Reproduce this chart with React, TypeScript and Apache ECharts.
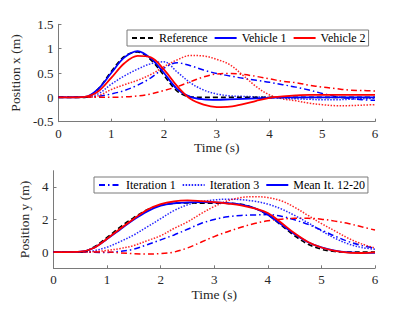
import React, { useEffect, useRef } from "react";
import * as echarts from "echarts";

const T = [0, 0.25, 0.5, 0.75, 1, 1.25, 1.5, 1.75, 2, 2.25, 2.5, 2.75, 3, 3.25, 3.5, 3.75, 4, 4.25, 4.5, 4.75, 5, 5.25, 5.5, 5.75, 6];

// Position x (top)
const refX = [0, 0, 0, 0.17, 0.53, 0.84, 0.93, 0.77, 0.45, 0.13, 0.01, 0, 0, 0, 0, 0, 0, 0, 0, 0, 0, 0, 0, 0, 0];
const v1MeanX = [0, 0, 0.01, 0.17, 0.5, 0.82, 0.95, 0.8, 0.5, 0.17, 0.01, -0.04, -0.05, -0.04, -0.03, -0.02, -0.01, 0, 0, 0, 0, 0, 0, 0, 0];
const v2MeanX = [0, 0, 0.01, 0.12, 0.4, 0.7, 0.85, 0.82, 0.57, 0.23, -0.03, -0.15, -0.2, -0.19, -0.14, -0.07, -0.01, 0.02, 0.04, 0.05, 0.05, 0.05, 0.05, 0.05, 0.05];
const v1It1X = [0, 0, 0, 0.02, 0.07, 0.14, 0.25, 0.4, 0.6, 0.71, 0.65, 0.56, 0.49, 0.44, 0.39, 0.35, 0.31, 0.26, 0.21, 0.15, 0.08, 0.02, -0.02, -0.05, -0.06];
const v1It3X = [0, 0, 0.01, 0.07, 0.27, 0.44, 0.58, 0.69, 0.73, 0.52, 0.3, 0.15, 0.07, 0.03, 0.02, 0.01, 0, -0.02, -0.03, -0.04, -0.05, -0.05, -0.04, -0.03, -0.02];
const v2It1X = [0, 0, 0, 0, 0, 0.01, 0.03, 0.07, 0.14, 0.22, 0.32, 0.42, 0.48, 0.49, 0.47, 0.43, 0.38, 0.33, 0.3, 0.25, 0.21, 0.18, 0.15, 0.14, 0.13];
const v2It3X = [0, 0, 0, 0.03, 0.16, 0.26, 0.35, 0.47, 0.63, 0.77, 0.86, 0.85, 0.78, 0.67, 0.45, 0.22, 0.05, -0.03, -0.07, -0.12, -0.15, -0.17, -0.17, -0.16, -0.15];

// Position y (bottom)
const refY = [0, 0, 0, 0.3, 0.9, 1.55, 2.12, 2.6, 2.88, 3.0, 3.02, 3.0, 3.0, 3.0, 2.93, 2.7, 2.28, 1.65, 1.0, 0.48, 0.17, 0.03, 0, 0, 0];
const v1MeanY = [0, 0, 0.02, 0.25, 0.8, 1.4, 2.0, 2.5, 2.85, 3.0, 3.05, 3.07, 3.05, 3.0, 2.92, 2.7, 2.3, 1.7, 1.1, 0.6, 0.28, 0.08, -0.02, -0.05, -0.05];
const v2MeanY = [0, 0, 0.02, 0.25, 0.82, 1.45, 2.05, 2.6, 2.95, 3.12, 3.17, 3.13, 3.07, 2.98, 2.87, 2.68, 2.4, 1.8, 1.15, 0.62, 0.28, 0.07, -0.04, -0.06, -0.02];
const v1It1Y = [0, 0, 0, -0.02, -0.03, 0.05, 0.18, 0.45, 0.75, 1.05, 1.4, 1.75, 2.0, 2.17, 2.25, 2.28, 2.3, 2.2, 1.98, 1.7, 1.35, 0.98, 0.65, 0.4, 0.24];
const v1It3Y = [0, 0, 0, 0.08, 0.3, 0.65, 1.05, 1.55, 2.05, 2.55, 2.9, 3.1, 3.2, 3.25, 3.22, 3.12, 2.95, 2.65, 2.25, 1.8, 1.3, 0.85, 0.5, 0.28, 0.17];
const v2It1Y = [0, 0, 0, 0, 0, -0.05, -0.1, -0.12, -0.1, 0, 0.25, 0.6, 0.95, 1.25, 1.52, 1.75, 1.92, 2.02, 2.07, 2.07, 2.02, 1.9, 1.75, 1.55, 1.35];
const v2It3Y = [0, 0, 0, 0.02, 0.1, 0.22, 0.4, 0.7, 1.0, 1.45, 1.85, 2.35, 2.8, 3.15, 3.35, 3.4, 3.35, 3.15, 2.75, 2.25, 1.75, 1.3, 0.85, 0.5, 0.25];

const legendTop = ["Reference", "Vehicle 1", "Vehicle 2"];
const legendBottom = ["Iteration 1", "Iteration 3", "Mean It. 12-20"];
const yTicksTop = [-0.5, 0, 0.5, 1, 1.5];
const yTicksBottom = [0, 2, 4];

const FONT = "'Liberation Serif', serif";
const AX = "#7a7a7a";
const TXT = "#262626";
const BLUE = "#0000ff";
const RED = "#ff0000";
const DASHDOT = [6, 3, 1.5, 3];
const DOT = [1.5, 1.5];

const pairs = (vals: number[]) => T.map((t, i) => [t, vals[i]]);

function line(name: string, idx: number, vals: number[], color: string, type: any, width: number, opacity = 1) {
  return {
    name,
    type: "line",
    xAxisIndex: idx,
    yAxisIndex: idx,
    data: pairs(vals),
    smooth: 0.35,
    symbol: "none",
    showSymbol: false,
    lineStyle: { color, type, width, opacity },
    itemStyle: { color },
    silent: true,
  };
}

function xAxisCfg(idx: number) {
  return {
    type: "value",
    gridIndex: idx,
    min: 0,
    max: 6,
    interval: 1,
    name: "Time (s)",
    nameLocation: "middle",
    nameGap: 18,
    nameTextStyle: { fontFamily: FONT, fontSize: 13.5, color: TXT },
    axisLine: { show: true, onZero: false, lineStyle: { color: AX, width: 1 } },
    axisTick: { show: true, inside: true, length: 3, lineStyle: { color: AX } },
    axisLabel: { fontFamily: FONT, fontSize: 13, color: TXT, margin: 5 },
    splitLine: { show: false },
  };
}

export default function App() {
  const ref = useRef<HTMLDivElement>(null);
  useEffect(() => {
    if (!ref.current) return;
    const chart = echarts.init(ref.current, null, { renderer: "svg" });
    const legendCommon = {
      orient: "horizontal",
      itemWidth: 22,
      itemHeight: 12,
      itemGap: 6,
      padding: [2, 3, 2, 4],
      borderColor: AX,
      borderWidth: 1,
      backgroundColor: "#ffffff",
      selectedMode: false,
      itemStyle: { opacity: 0 },
      textStyle: { fontFamily: FONT, fontSize: 12, color: "#000" },
    };
    chart.setOption({
      animation: false,
      backgroundColor: "#ffffff",
      grid: [
        { left: 53.5, top: 24.3, width: 321.5, height: 97.4 },
        { left: 53.5, top: 170.7, width: 321.5, height: 97.6 },
      ],
      legend: [
        { ...legendCommon, data: legendTop, left: 127, top: 30 },
        { ...legendCommon, data: legendBottom, left: 94, top: 177 },
      ],
      xAxis: [xAxisCfg(0), xAxisCfg(1)],
      yAxis: [
        {
          type: "value",
          gridIndex: 0,
          min: -0.5,
          max: 1.5,
          interval: 0.5,
          name: "Position x (m)",
          nameLocation: "middle",
          nameGap: 24,
          nameTextStyle: { fontFamily: FONT, fontSize: 13.5, color: TXT },
          axisLine: { show: true, onZero: false, lineStyle: { color: AX, width: 1 } },
          axisTick: { show: true, inside: true, length: 3, lineStyle: { color: AX }, customValues: yTicksTop },
          axisLabel: { fontFamily: FONT, fontSize: 13, color: TXT, margin: 5, customValues: yTicksTop },
          splitLine: { show: false },
        },
        {
          type: "value",
          gridIndex: 1,
          min: -1,
          max: 5,
          interval: 1,
          name: "Position y (m)",
          nameLocation: "middle",
          nameGap: 10,
          nameTextStyle: { fontFamily: FONT, fontSize: 13.5, color: TXT },
          axisLine: { show: true, onZero: false, lineStyle: { color: AX, width: 1 } },
          axisTick: { show: true, inside: true, length: 3, lineStyle: { color: AX }, customValues: yTicksBottom },
          axisLabel: { fontFamily: FONT, fontSize: 13, color: TXT, margin: 5, customValues: yTicksBottom },
          splitLine: { show: false },
        },
      ],
      series: [
        line("V1 It1 x", 0, v1It1X, BLUE, DASHDOT, 1.5),
        line("V2 It1 x", 0, v2It1X, RED, DASHDOT, 1.5),
        line("V1 It3 x", 0, v1It3X, BLUE, DOT, 1.5, 0.85),
        line("V2 It3 x", 0, v2It3X, RED, DOT, 1.5, 0.85),
        line("Reference", 0, refX, "#000000", [5, 3], 1.6),
        line("Vehicle 1", 0, v1MeanX, BLUE, "solid", 1.8),
        line("Vehicle 2", 0, v2MeanX, RED, "solid", 1.8),
        line("Iteration 1", 1, v1It1Y, BLUE, DASHDOT, 1.5),
        line("V2 It1 y", 1, v2It1Y, RED, DASHDOT, 1.5),
        line("Iteration 3", 1, v1It3Y, BLUE, DOT, 1.5, 0.85),
        line("V2 It3 y", 1, v2It3Y, RED, DOT, 1.5, 0.85),
        line("Ref y", 1, refY, "#000000", [5, 3], 1.6),
        line("Mean It. 12-20", 1, v1MeanY, BLUE, "solid", 1.8),
        line("V2 Mean y", 1, v2MeanY, RED, "solid", 1.8),
      ],
    });
    return () => chart.dispose();
  }, []);
  return (
    <div
      ref={ref}
      style={{ position: "absolute", left: 0, top: 0, width: 415, height: 311, background: "#fff" }}
    />
  );
}
